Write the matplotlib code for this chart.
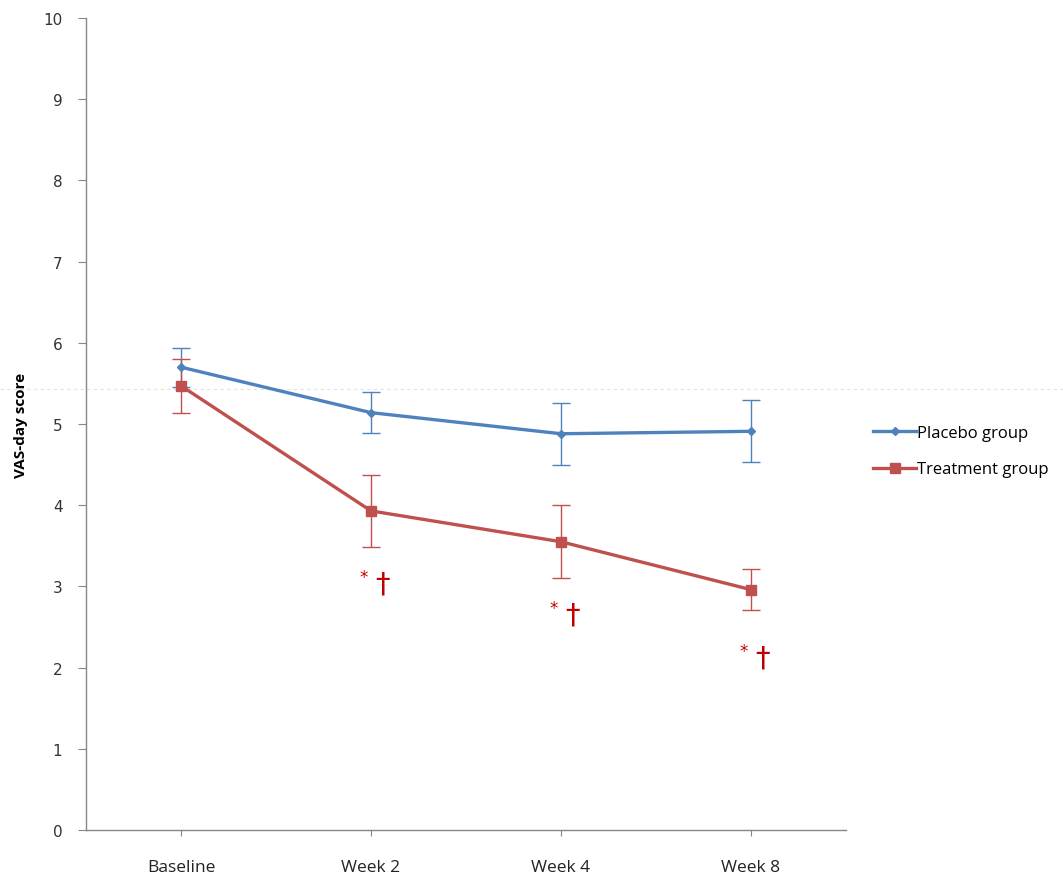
import matplotlib
matplotlib.use("Agg")
import matplotlib.pyplot as plt
from matplotlib.lines import Line2D

categories = ["Baseline", "Week 2", "Week 4", "Week 8"]
placebo = [5.70, 5.14, 4.88, 4.91]
placebo_err = [0.24, 0.25, 0.38, 0.38]
treatment = [5.47, 3.93, 3.55, 2.96]
treatment_err = [0.33, 0.44, 0.45, 0.25]
sig_label = ["", "* \u2020", "* \u2020", "* \u2020"]
sig_label_y = [None, 3.03, 2.66, 2.13]
yticks = list(range(0, 11))

blue = "#4F81BD"
red = "#C0504D"
sig_red = "#C00000"
axis_gray = "#868686"

fig = plt.figure(figsize=(10.63, 8.78), dpi=100)
ax = fig.add_axes([86 / 1063, 1 - 831 / 878, (846 - 86) / 1063, (831 - 19) / 878])
ax.patch.set_alpha(0)

x = list(range(len(categories)))

ax.errorbar(x, placebo, yerr=placebo_err, color=blue, lw=2.4, marker="D", ms=4,
            mfc=blue, mec=blue, ecolor=blue, elinewidth=1.0, capsize=6.5, capthick=1.0,
            label="Placebo group", zorder=3)
ax.errorbar(x, treatment, yerr=treatment_err, color=red, lw=2.4, marker="s", ms=7,
            mfc=red, mec=red, ecolor=red, elinewidth=1.0, capsize=6.5, capthick=1.0,
            label="Treatment group", zorder=3)

for xi, lab, ly in zip(x, sig_label, sig_label_y):
    if lab:
        ax.text(xi - 0.04, ly + 0.08, "*", color=sig_red, fontsize=12, ha="center", va="center")
        ax.text(xi + 0.06, ly, "\u2020", color=sig_red, fontsize=21, ha="center", va="center")

ax.set_xlim(-0.5, 3.5)
ax.set_ylim(0, 10)
ax.set_yticks(yticks)
ax.set_yticklabels([str(t) for t in yticks], fontsize=11, color="#333333", family="DejaVu Sans")
ax.set_xticks(x)
ax.set_xticklabels(categories, fontsize=12.5, color="#222222", family="Open Sans")
ax.tick_params(axis="x", length=4, color=axis_gray, pad=17)
ax.tick_params(axis="y", length=6, color=axis_gray, pad=11)

for s in ["top", "right"]:
    ax.spines[s].set_visible(False)
for s in ["left", "bottom"]:
    ax.spines[s].set_color(axis_gray)
    ax.spines[s].set_linewidth(1.0)

ax.set_ylabel("VAS-day score", fontsize=11, fontweight="bold", family="Open Sans", labelpad=11)

# faint horizontal scan artifact line
fig.add_artist(Line2D([0, 1], [1 - 390 / 878, 1 - 390 / 878], color="#e2e2e2", lw=0.8,
                      ls=(0, (3, 3)), transform=fig.transFigure, zorder=0))

handles = [Line2D([0], [0], color=blue, lw=2.4, marker="D", ms=4),
           Line2D([0], [0], color=red, lw=2.4, marker="s", ms=7)]
fig.legend(handles, ["Placebo group", "Treatment group"], loc="center left",
           bbox_to_anchor=(858 / 1063, 1 - 452 / 878), frameon=False,
           prop={"family": "Open Sans", "size": 12}, handlelength=2.6, handletextpad=0.05,
           labelspacing=1.25)

fig.savefig("out.png", dpi=100)
